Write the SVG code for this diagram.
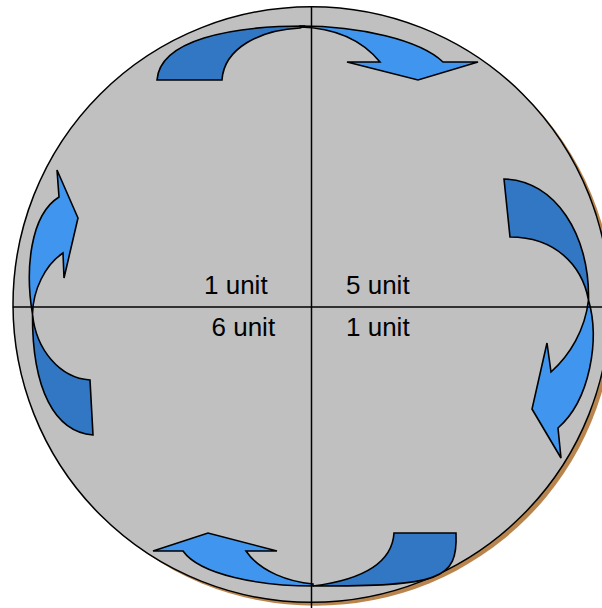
<svg xmlns="http://www.w3.org/2000/svg" width="602" height="608" viewBox="0 0 602 608">
  <style>
    .arr { stroke: #000; stroke-width: 1.6; stroke-linejoin: miter; }
    .dark { fill: #3277C4; }
    .light { fill: #4096EF; }
    .axis { stroke: #000; stroke-width: 1.5; fill: none; }
    .lbl { font-family: "Liberation Sans", Arial, sans-serif; font-size: 26px; fill: #000; }
  </style>
  <g id="disc">
    <ellipse cx="315.5" cy="308" rx="298.5" ry="297.8" fill="#B9854E"/>
    <ellipse cx="311.5" cy="304.5" rx="298.5" ry="297.8" fill="#C0C0C0" stroke="#000" stroke-width="1.5"/>
  </g>
  <g id="arrow-top">
    <path class="arr dark" d="M157,80 C160,40 230,26 305,26 L300,28 C260,30 224,48 222,80 Z"/>
    <path class="arr light" d="M300,26 C360,26 420,40 443,62 L478,62 L418,80 L347,62 L380,62 C362,40 335,28 300,27 Z"/>
  </g>
  <g id="arrow-right">
    <path class="arr dark" d="M504,179 C555,180 590,235 588.5,300 C582,265 555,237 510,237 Z"/>
    <path class="arr light" d="M588.5,300 C600,340 590,400 558,428 L561,458 L532,409 L547,343 L551,372 C570,355 585,330 588.5,300 Z"/>
  </g>
  <g id="arrow-bottom">
    <path class="arr dark" d="M394,533 L456,533 C458,580 440,586 313,586 C360,580 392,565 394,533 Z"/>
    <path class="arr light" d="M313,586 C260,586 200,575 183,551 L153,551 L208,533 L277,551 L246,551 C260,572 290,582 313,584 Z"/>
  </g>
  <g id="arrow-left">
    <path class="arr dark" d="M32.5,314 C32,390 55,432 93,435 L90,380 C60,378 36,350 32.5,314 Z"/>
    <path class="arr light" d="M32.5,314 C25,270 30,215 59,197 L57,170 L78,218 L64,278 L63,253 C45,265 33,290 32.5,314 Z"/>
  </g>
  <g id="connectors">
    <line class="axis" x1="311.5" y1="7" x2="311.5" y2="608"/>
    <line class="axis" x1="12.7" y1="307" x2="602" y2="307"/>
  </g>
  <g id="labels">
    <text class="lbl" x="204" y="294">1 unit</text>
    <text class="lbl" x="346" y="294">5 unit</text>
    <text class="lbl" x="211.5" y="336">6 unit</text>
    <text class="lbl" x="346" y="336">1 unit</text>
  </g>
</svg>
